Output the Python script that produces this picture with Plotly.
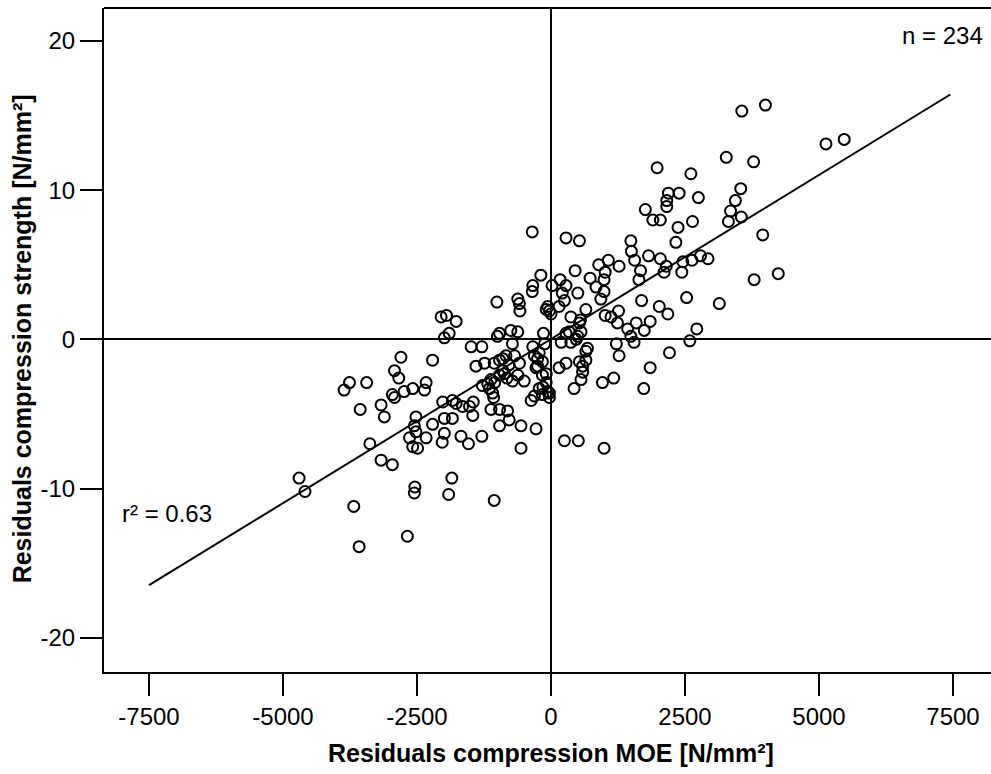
import plotly.graph_objects as go

# Residuals compression MOE [N/mm²] (x) and residuals compression strength [N/mm²] (y)
moe_res = [
    3560, 4000, 5130, 5470, 3270, 3780, 1980, 2610, 3540, 2190, 2390, 2750, 2160, 2160, 3440,
    1760, 3350, 1900, 2040, 3310, 3550, 2640, 2370, 3950, 1490, 2330, 1500, 1820, 1070, 1270,
    1560, 2040, 2150, 2460, 2630, 2790, 2930, 1670, 1010, 2110, 2440, 1640, 990, 3790, 4240,
    990, 930, 1690, 2530, 3140, 2020, 2180, 1010, 1120, 1260, 1240, 1590, 1850, 1430, 1740,
    1490, 1550, 2720, 2590, 1220, 1270, 2210, 1850, 1170, 960, 1730, 890, 840,
    -350, 280, 530, 450, 730, -190, -340, -350, 170, 20, 280, 210, 500, 250, 150,
    -90, 0, -30, -620, -580, -590, -1010, 650, 370, 550,
    -140, 280, 190, 370, 530, 560, 470, 680, 650, 650, 530, 280, 150, 590, 560,
    430, 590, 340, 500,
    -340, -310, -220, -160, -90, -250, -90, -60, -30, -220, -310, -370, -280, -160, -160,
    -30, -120, 250, 510, 990,
    -2050, -1950, -1770, -1900, -1990, -1490, -1290, -960, -1000, -750, -620, -720, -840, -680, -590,
    -1060, -1240, -1400, -900, -780, -960, -1120, -1150, -1090, -720, -500, -620, -1280, -1070, -1120,
    -960, -810, -780, -960, -560, -280, -560, -1450, -1520, -1650, -1840, -2020, -1840, -1990, -1460,
    -2210, -2520, -1680, -1540, -1290, -2030, -2330, -2640, -2580, -2490, -1850, -2540, -2550, -1910, -1060,
    -2800, -2210, -2840, -2920, -2580, -2740, -2330, -2360, -2960, -2920, -3170, -3110, -3560, -3760, -3860,
    -3440, -3380, -3170, -2960, -4700, -4590, -3680, -3580, -2680, -1770, -2520, -2550, -1990, -960,
    -870, -1050, -60, -250, -150, -1180, -820, -900,
]
strength_res = [
    15.3, 15.7, 13.1, 13.4, 12.2, 11.9, 11.5, 11.1, 10.1, 9.8, 9.8, 9.5, 9.3, 8.9, 9.3,
    8.7, 8.6, 8.0, 8.0, 7.9, 8.2, 7.9, 7.5, 7.0, 6.6, 6.5, 5.9, 5.6, 5.3, 4.9,
    5.3, 5.4, 4.9, 5.2, 5.3, 5.6, 5.4, 4.6, 4.5, 4.5, 4.5, 4.0, 4.0, 4.0, 4.4,
    3.2, 2.7, 2.6, 2.8, 2.4, 2.2, 1.7, 1.6, 1.5, 1.9, 1.1, 1.1, 1.2, 0.7, 0.6,
    0.2, -0.2, 0.7, -0.1, -0.3, -1.1, -0.9, -1.9, -2.6, -2.9, -3.3, 5.0, 3.5,
    7.2, 6.8, 6.6, 4.6, 4.1, 4.3, 3.6, 3.2, 4.0, 3.6, 3.6, 3.1, 3.1, 2.6, 2.2,
    2.0, 1.7, 1.9, 2.7, 1.9, 2.4, 2.5, 2.0, 1.5, 1.3,
    0.4, 0.4, -0.2, -0.2, 1.1, 0.5, 0.0, -0.6, -0.8, -1.4, -1.5, -1.6, -1.9, -2.2, -2.7,
    -3.3, -1.8, 0.5, 0.2,
    -0.5, -1.1, -0.9, -1.5, -2.3, -1.8, -2.9, -3.5, -3.9, -3.3, -3.8, -4.1, -1.9, -2.4, -3.7,
    -3.6, -0.3, -6.8, -6.8, -7.3,
    1.5, 1.6, 1.2, 0.4, 0.1, -0.5, -0.5, 0.4, 0.2, 0.6, 0.5, -0.3, -1.1, -1.1, -1.6,
    -1.6, -1.6, -1.8, -2.1, -1.7, -2.4, -2.7, -3.3, -3.6, -2.8, -2.8, -2.4, -3.1, -3.9, -4.7,
    -4.7, -4.8, -5.4, -5.8, -5.8, -6.0, -7.3, -4.2, -4.5, -4.5, -4.1, -4.2, -5.3, -5.3, -5.1,
    -5.7, -5.2, -6.5, -7.0, -6.5, -6.9, -6.6, -6.6, -7.2, -7.3, -9.3, -9.9, -10.3, -10.4, -10.8,
    -1.2, -1.4, -2.6, -2.1, -3.3, -3.5, -2.9, -3.4, -3.7, -3.9, -4.4, -5.2, -4.7, -2.9, -3.4,
    -2.9, -7.0, -8.1, -8.4, -9.3, -10.2, -11.2, -13.9, -13.2, -4.3, -6.2, -5.8, -6.3, -1.4,
    -2.3, -2.9, 2.2, -1.3, -3.2, -3.0, -2.6, -1.3,
]

# Regression line
fit_x = [-7500, 7450]
fit_slope = 0.0022
fit_intercept = 0.02
fit_y = [fit_intercept + fit_slope * v for v in fit_x]

x_ticks = [-7500, -5000, -2500, 0, 2500, 5000, 7500]
x_ticktext = ["-7500", "-5000", "-2500", "0", "2500", "5000", "7500"]
y_ticks = [-20, -10, 0, 10, 20]
y_ticktext = ["-20", "-10", "0", "10", "20"]

FONT = "Liberation Sans, Arial, sans-serif"

fig = go.Figure()
fig.add_trace(go.Scatter(
    x=fit_x, y=fit_y, mode="lines",
    line=dict(color="black", width=2), hoverinfo="skip", showlegend=False,
))
fig.add_trace(go.Scatter(
    x=moe_res, y=strength_res, mode="markers",
    marker=dict(symbol="circle-open", size=11, color="black", line=dict(width=2, color="black")),
    showlegend=False,
))

axis_common = dict(
    showgrid=False, showline=True, linecolor="black", linewidth=2,
    ticks="outside", ticklen=22, tickwidth=2, tickcolor="black",
    zeroline=True, zerolinecolor="black", zerolinewidth=2,
    tickfont=dict(family=FONT, size=24, color="black"),
)

fig.update_layout(
    width=991, height=774,
    margin=dict(l=104, r=0, t=8, b=102),
    paper_bgcolor="white", plot_bgcolor="white",
    xaxis=dict(range=[-8340, 8209], tickvals=x_ticks, ticktext=x_ticktext, **axis_common),
    yaxis=dict(range=[-22.3, 22.21], tickvals=y_ticks, ticktext=y_ticktext, **axis_common),
    shapes=[dict(type="line", xref="paper", yref="paper", x0=0, x1=1, y0=1, y1=1,
                 line=dict(color="black", width=2))],
    annotations=[
        dict(text="Residuals compression MOE [N/mm²]", xref="x", yref="paper", x=0, y=-0.122,
             xanchor="center", yanchor="middle", showarrow=False,
             font=dict(family=FONT, size=25, color="black", weight="bold")),
        dict(text="Residuals compression strength [N/mm²]", xref="paper", yref="y",
             x=-0.0924, y=0, textangle=-90, xanchor="center", yanchor="middle", showarrow=False,
             font=dict(family=FONT, size=25, color="black", weight="bold")),
        dict(text="n = 234", xref="paper", yref="paper", x=0.9932, y=0.9593,
             xanchor="right", yanchor="middle", showarrow=False,
             font=dict(family=FONT, size=24, color="black")),
        dict(text="r² = 0.63", xref="paper", yref="paper", x=0.018, y=0.238,
             xanchor="left", yanchor="middle", showarrow=False,
             font=dict(family=FONT, size=24, color="black")),
    ],
)

fig.write_html("out.html")
